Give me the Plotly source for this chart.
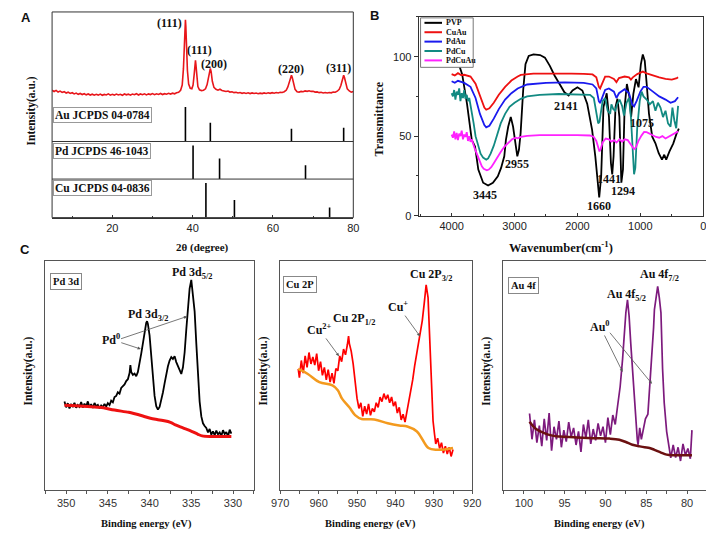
import plotly.graph_objects as go

W, H = 714, 536
def PX(x): return x / W
def PY(y): return 1 - y / H

SERIF = "Liberation Serif, Times New Roman, serif"
SANS = "Liberation Sans, Arial, sans-serif"
NARROW = "Liberation Sans Narrow, Arial Narrow, Liberation Sans, sans-serif"

# ---------------- Panel A : XRD ----------------
xrd_2theta = [5.0,5.5,6.0,6.5,7.0,7.5,8.0,8.5,9.0,9.5,10.0,10.5,11.0,11.5,12.0,12.5,13.0,13.5,14.0,14.5,
              15.0,15.5,16.0,16.5,17.0,17.5,18.0,18.5,19.0,19.5,20.0,20.5,21.0,21.5,22.0,22.5,23.0,23.5,24.0,24.5,
              25.0,25.5,26.0,26.5,27.0,27.5,28.0,28.5,29.0,29.5,30.0,30.5,31.0,31.5,32.0,32.5,33.0,33.5,34.0,34.5,
              35.0,35.5,36.0,36.5,37.0,37.4,37.7,37.9,38.1,38.2,38.3,38.5,38.7,39.0,39.4,39.8,40.1,40.4,40.6,40.7,
              40.8,41.0,41.3,41.7,42.2,42.7,43.2,43.6,44.0,44.3,44.4,44.6,44.9,45.3,45.8,46.3,46.8,47.3,47.8,48.3,
              48.8,49.3,49.8,50.3,50.8,51.3,51.8,52.3,52.8,53.3,53.8,54.3,54.8,55.3,55.8,56.3,56.8,57.3,57.8,58.3,
              58.8,59.3,59.8,60.3,60.8,61.3,61.8,62.3,62.8,63.3,63.7,64.1,64.4,64.6,64.8,65.1,65.5,66.0,66.5,67.0,
              67.5,68.0,68.5,69.0,69.5,70.0,70.5,71.0,71.5,72.0,72.5,73.0,73.5,74.0,74.5,75.0,75.5,76.0,76.5,76.9,
              77.2,77.5,77.6,77.8,78.1,78.5,79.0,79.5,80.0]
xrd_intensity = [17.5,16.2,17.4,15.6,16.6,15.2,16.0,14.6,15.5,14.2,14.9,13.6,14.5,13.2,14.1,13.0,13.9,12.7,13.6,12.5,
                 13.4,12.3,13.3,12.4,13.5,12.2,13.1,12.6,13.7,12.3,13.2,12.4,13.5,12.6,13.3,12.2,13.6,12.7,13.4,12.3,
                 13.5,12.8,13.9,12.5,13.6,12.9,13.8,12.6,13.7,13.0,14.0,12.9,13.8,13.1,14.1,13.0,13.9,13.3,14.3,13.5,
                 14.4,13.8,14.9,15.3,17.5,23.0,40.0,65.0,88.0,91.7,85.0,60.0,38.0,24.0,19.5,19.0,23.0,35.0,46.0,49.0,
                 45.0,32.0,21.5,18.0,17.2,17.6,19.0,23.5,33.0,40.0,40.6,37.0,27.0,20.5,18.5,17.6,18.6,17.3,17.0,16.2,
                 16.7,15.6,15.9,15.0,15.4,14.6,15.1,14.3,14.9,14.2,14.8,14.0,14.7,14.1,14.6,13.9,14.5,14.0,14.7,14.2,
                 14.8,14.3,15.0,14.4,15.1,14.6,15.3,15.2,16.0,17.5,21.0,27.0,32.0,33.3,31.0,24.0,18.5,16.0,15.6,16.3,
                 15.9,16.8,16.4,17.0,16.3,16.5,15.6,15.8,15.0,15.4,14.7,15.2,14.6,15.1,14.8,15.6,15.4,16.5,18.5,22.5,
                 28.0,32.5,33.3,31.0,24.5,19.0,16.8,15.5,16.2]

hkl_labels = ["(111)", "(111)", "(200)", "(220)", "(311)"]

au_pos = [38.2, 44.4, 64.6, 77.6]
au_int = [100, 54, 37, 40]
pd_pos = [40.1, 46.7, 68.1]
pd_int = [89, 55, 37]
cu_pos = [43.3, 50.4, 74.1]
cu_int = [90, 46, 26]
ref_names = ["Au JCPDS 04-0784", "Pd JCPDS 46-1043", "Cu JCPDS 04-0836"]

# ---------------- Panel B : FTIR ----------------
series_names = ["PVP", "CuAu", "PdAu", "PdCu", "PdCuAu"]
series_colors = ["#000000", "#ee1111", "#1a1aee", "#128a82", "#ff22ff"]

pvp_wn = [3912,3833,3756,3680,3628,3576,3499,3421,3344,3266,3214,3163,3137,3101,3060,3023,2997,2977,2956,2930,
          2904,2863,2826,2775,2698,2594,2517,2439,2362,2284,2207,2140,2078,2000,1922,1845,1767,1716,1674,1654,
          1623,1586,1535,1499,1468,1447,1426,1395,1364,1333,1302,1276,1250,1214,1173,1147,1111,1070,1028,992,
          961,930,899,863,811,760,708,656,620,589,537,476,423,388]
pvp_t = [98.3,89.0,70.4,47.6,43.5,29.0,20.7,19.0,20.7,24.8,30.0,37.3,47.6,55.9,62.1,55.9,48.6,41.4,37.3,41.4,
         51.7,78.7,95.2,100.4,101.4,101.0,99.4,94.2,88.0,82.8,77.6,75.6,78.7,80.7,78.7,70.4,53.9,37.3,18.6,11.4,
         24.8,68.3,77.0,62.1,33.1,25.9,37.3,68.3,73.5,62.1,20.7,29.0,68.3,82.8,74.5,62.1,76.6,85.9,80.7,95.2,
         101.4,97.3,82.8,64.2,49.7,45.5,39.3,35.2,38.3,35.2,40.4,45.5,51.7,54.8]

cuau_wn = [4000,3950,3900,3850,3800,3700,3620,3550,3480,3450,3400,3330,3250,3150,3050,2950,2900,2700,2400,2100,
           1900,1760,1700,1660,1640,1610,1560,1500,1420,1380,1340,1250,1180,1150,1120,1050,960,900,800,700,
           600,500,420,400]
cuau_t = [89.0,88.2,89.6,88.4,88.6,87.5,83.0,75.0,68.0,66.6,67.5,71.0,76.0,81.0,85.0,87.5,88.5,89.3,89.5,89.3,
          89.2,88.8,87.0,81.0,80.0,83.0,87.5,87.5,86.0,84.0,86.5,87.5,87.0,85.6,87.0,89.0,90.6,89.5,88.0,87.0,
          86.0,85.6,86.5,87.0]

pdau_wn = [4000,3950,3900,3850,3800,3700,3620,3550,3480,3450,3400,3330,3250,3150,3050,2950,2800,2500,2200,1900,
           1760,1700,1660,1640,1610,1560,1500,1420,1380,1340,1250,1180,1130,1100,1060,1000,950,900,800,700,
           600,520,450,400]
pdau_t = [84.5,83.6,84.8,83.9,83.5,81.0,74.0,64.0,57.0,55.5,56.5,61.0,67.0,73.0,77.0,80.0,82.5,83.5,83.8,83.5,
          82.5,80.0,72.0,70.8,74.0,79.0,80.0,78.0,74.0,77.0,79.5,77.0,70.0,68.7,72.0,78.0,81.0,81.0,78.0,75.0,
          73.0,71.0,72.0,74.5]

pdcu_wn = [4000,3980,3960,3940,3920,3900,3880,3860,3840,3820,3800,3780,3760,3740,3720,3700,3680,3650,3620,3580,
           3540,3500,3470,3450,3420,3380,3330,3280,3220,3150,3080,3000,2950,2900,2800,2600,2300,2000,1800,1740,
           1700,1670,1650,1630,1600,1560,1520,1480,1460,1430,1400,1370,1330,1290,1260,1220,1180,1150,1120,1100,
           1080,1050,1010,980,950,900,850,800,760,720,680,640,600,560,520,490,460,430,400]
pdcu_t = [77.0,75.0,79.0,73.0,78.0,76.0,80.0,72.0,77.0,74.0,79.0,73.5,76.0,72.0,74.0,70.0,66.0,58.0,50.0,44.0,
          39.0,36.5,35.5,35.2,36.0,39.0,44.0,51.0,58.0,64.0,68.5,71.0,72.5,73.5,75.0,76.0,76.5,76.4,76.0,74.0,
          66.0,58.0,59.0,64.0,72.0,74.0,66.0,64.0,70.0,67.0,66.0,70.0,73.0,69.0,63.0,71.0,74.0,62.0,40.0,26.0,
          30.0,55.0,72.0,78.0,75.0,73.0,70.0,72.0,66.0,71.0,68.0,62.0,66.0,58.0,56.0,68.0,60.0,55.0,69.0]

pdcuau_wn = [4000,3980,3960,3940,3920,3900,3880,3860,3840,3820,3800,3780,3760,3740,3720,3700,3680,3660,3640,3610,
             3580,3550,3520,3490,3460,3440,3410,3370,3330,3280,3220,3160,3100,3040,2980,2950,2900,2800,2600,2300,
             2000,1800,1740,1700,1670,1650,1630,1600,1550,1500,1460,1420,1380,1330,1290,1250,1200,1160,1120,1100,
             1070,1030,980,940,900,850,800,750,700,650,600,550,500,450,400]
pdcuau_t = [51.0,49.0,53.0,48.0,52.0,47.5,51.5,50.0,53.5,48.0,51.0,49.5,52.5,47.0,50.0,46.5,48.0,45.0,43.0,40.0,
            37.0,34.0,31.0,29.5,28.7,28.5,29.0,30.5,33.0,36.5,40.0,43.5,46.0,48.0,49.0,48.6,49.5,50.2,50.6,50.8,
            50.6,50.4,49.5,47.0,42.0,40.4,42.0,46.0,48.5,48.0,46.5,47.5,46.0,48.0,46.5,48.0,47.5,45.0,42.5,41.8,
            43.0,47.0,50.5,52.7,52.5,51.5,50.0,49.5,49.0,50.0,48.5,49.5,51.0,52.0,53.0]

ftir_peak_labels = ["3445", "2955", "2141", "1660", "1441", "1294", "1075"]

# ---------------- Panel C : XPS ----------------
pd_be = [350.2,350.0,349.8,349.6,349.4,349.2,349.0,348.8,348.6,348.4,348.2,348.0,347.8,347.6,347.4,347.2,347.0,
         346.8,346.6,346.4,346.2,346.0,345.8,345.6,345.4,345.2,345.0,344.8,344.6,344.4,344.2,344.0,343.8,343.6,
         343.4,343.2,343.0,342.8,342.6,342.4,342.3,342.2,342.0,341.8,341.6,341.4,341.2,341.0,340.8,340.6,340.4,
         340.3,340.2,340.0,339.8,339.6,339.4,339.2,339.0,338.8,338.6,338.4,338.2,338.0,337.8,337.6,337.4,337.2,
         337.0,336.8,336.6,336.4,336.2,336.0,335.8,335.6,335.4,335.2,335.0,334.8,334.6,334.4,334.2,334.0,333.8,
         333.6,333.4,333.2,333.0,332.8,332.6,332.4,332.2,332.0,331.8,331.6,331.4,331.2,331.0,330.8,330.6,330.4,330.2]
pd_counts = [38.5,36.0,37.8,35.5,37.2,36.4,38.0,35.8,37.0,36.2,38.3,35.9,37.6,36.3,38.6,36.0,37.4,
             35.7,37.9,36.5,37.1,35.6,36.8,36.1,37.5,36.3,37.8,37.0,38.9,38.2,40.5,41.0,42.6,42.0,
             44.5,45.2,46.0,47.5,48.3,51.0,54.5,51.5,50.2,50.8,49.6,51.5,55.0,59.5,64.0,69.0,73.0,
             73.7,72.5,67.5,59.0,49.0,41.0,36.5,35.0,36.2,39.0,42.5,46.5,50.5,54.0,56.5,58.0,57.2,
             58.4,55.8,54.0,52.0,50.6,53.5,60.0,70.0,80.0,88.0,91.8,86.0,78.0,64.0,50.0,38.5,32.0,
             29.0,27.8,27.0,25.0,26.5,24.0,25.5,23.8,25.8,24.2,25.0,23.5,26.0,24.3,25.2,23.2,26.2,24.5]
pd_bg_be = [350.2,348.0,346.0,344.2,342.5,341.9,340.8,339.9,339.0,338.4,337.5,336.9,336.0,334.9,334.2,333.7,332.5,331.0,330.2]
pd_bg = [36.9,36.5,36.0,34.8,33.8,33.3,32.2,31.2,30.6,30.2,29.4,28.3,27.0,25.4,24.2,23.5,23.2,23.2,23.2]

cu_be = [965.3,965.0,964.5,964.0,963.5,963.0,962.5,962.0,961.5,961.0,960.5,960.0,959.5,959.0,958.5,958.0,957.5,
         957.0,956.5,956.0,955.5,955.0,954.5,954.0,953.5,953.0,952.5,952.2,952.0,951.5,951.0,950.5,950.0,949.5,
         949.0,948.5,948.0,947.5,947.0,946.5,946.0,945.5,945.0,944.5,944.0,943.5,943.0,942.5,942.0,941.5,941.0,
         940.5,940.0,939.5,939.0,938.5,938.0,937.5,937.0,936.5,936.0,935.5,935.0,934.5,934.0,933.5,933.0,932.5,
         932.0,931.5,931.2,931.0,930.6,930.2,929.8,929.5,929.0,928.5,928.0,927.5,927.0,926.5,926.0,925.5,925.0]
cu_counts = [52.8,49.0,56.5,51.0,58.5,53.5,60.0,55.0,58.0,54.5,59.5,52.0,56.0,50.0,53.5,48.0,52.5,
             47.0,51.0,46.5,53.0,52.0,58.5,56.0,61.5,59.0,63.5,67.2,64.0,60.5,55.0,46.0,40.0,35.5,
             38.0,32.0,36.5,33.0,37.5,32.5,35.5,34.0,38.0,36.0,40.5,38.5,42.0,39.5,41.5,38.0,40.5,
             36.5,38.5,33.5,36.0,30.5,33.0,29.5,34.0,38.5,42.7,48.0,54.0,59.0,63.0,68.5,74.0,81.5,
             89.6,84.0,72.0,60.0,45.0,30.0,24.0,20.0,22.5,18.0,20.5,16.0,19.0,15.5,18.5,14.5,17.5]
cu_bg_be = [965.3,962.8,959.8,956.4,955.0,953.9,952.0,950.5,948.8,945.5,942.0,939.0,936.9,934.4,933.0,931.4,929.3,927.0,925.0]
cu_bg = [52.8,50.6,47.0,45.6,43.5,39.8,36.0,32.6,30.9,30.7,29.0,28.0,27.6,25.4,22.0,18.2,17.4,17.6,18.2]

au_be = [99.3,99.0,98.7,98.4,98.1,97.8,97.5,97.2,96.9,96.6,96.3,96.0,95.7,95.4,95.1,94.8,94.5,94.2,93.9,93.6,
         93.3,93.0,92.7,92.4,92.1,91.8,91.5,91.2,90.9,90.6,90.3,90.0,89.7,89.4,89.1,88.8,88.5,88.2,87.9,87.7,
         87.5,87.3,87.1,86.9,86.7,86.5,86.3,86.1,86.0,85.8,85.6,85.4,85.1,84.8,84.6,84.3,84.1,84.0,83.8,83.6,
         83.4,83.2,83.0,82.8,82.5,82.2,82.0,81.7,81.4,81.1,80.8,80.5,80.2,79.9,79.6,79.4]
au_counts = [33.3,22.0,30.5,20.5,28.0,19.0,31.0,21.5,33.5,17.0,27.5,22.0,30.0,18.5,26.0,21.0,29.5,23.0,27.0,19.5,
             25.5,16.5,28.5,22.5,30.5,20.0,26.5,21.5,29.0,23.5,27.5,20.5,31.5,24.0,32.6,28.5,36.9,45.0,57.1,70.0,
             77.4,83.1,75.9,64.0,52.8,40.0,31.2,22.0,19.6,27.0,22.0,25.4,31.0,33.0,44.0,57.1,71.0,78.8,85.0,88.9,
             84.0,77.4,52.8,38.0,25.4,18.0,13.9,19.5,14.0,18.5,12.5,20.0,15.0,18.0,13.5,26.0]
au_bg_be = [99.3,98.5,97.5,96.5,95.5,93.5,91.5,89.5,88.3,87.5,86.7,85.8,85.2,84.6,84.0,83.2,82.5,81.7,80.5,79.4]
au_bg = [29.7,26.5,24.7,23.6,23.2,22.8,22.5,22.3,21.8,20.8,19.6,18.9,18.5,18.2,17.4,16.2,15.3,15.0,15.0,15.0]

# ================= Figure =================
fig = go.Figure()

# Panel A traces
fig.add_trace(go.Scatter(x=xrd_2theta, y=xrd_intensity, mode="lines", line=dict(color="#e8161b", width=1.6),
                         xaxis="x", yaxis="y", showlegend=False))

def stick_trace(pos, inten, yaxis):
    xs, ys = [], []
    for p, v in zip(pos, inten):
        xs += [p, p, None]
        ys += [0, v, None]
    return go.Scatter(x=xs, y=ys, mode="lines", line=dict(color="black", width=1.6),
                      xaxis="x", yaxis=yaxis, showlegend=False)

fig.add_trace(stick_trace(au_pos, au_int, "y2"))
fig.add_trace(stick_trace(pd_pos, pd_int, "y3"))
fig.add_trace(stick_trace(cu_pos, cu_int, "y4"))

# Panel B traces
ftir = [(pvp_wn, pvp_t), (cuau_wn, cuau_t), (pdau_wn, pdau_t), (pdcu_wn, pdcu_t), (pdcuau_wn, pdcuau_t)]
for name, col, (wn, t) in zip(series_names, series_colors, ftir):
    fig.add_trace(go.Scatter(x=wn, y=t, mode="lines", name=name, line=dict(color=col, width=1.8),
                             xaxis="x2", yaxis="y5", showlegend=False))

# Panel C traces
fig.add_trace(go.Scatter(x=pd_be, y=pd_counts, mode="lines", line=dict(color="black", width=1.8),
                         xaxis="x3", yaxis="y6", showlegend=False))
fig.add_trace(go.Scatter(x=pd_bg_be, y=pd_bg, mode="lines", line=dict(color="#ee1111", width=3, shape="spline"),
                         xaxis="x3", yaxis="y6", showlegend=False))
fig.add_trace(go.Scatter(x=cu_be, y=cu_counts, mode="lines", line=dict(color="#ff0000", width=1.7),
                         xaxis="x4", yaxis="y7", showlegend=False))
fig.add_trace(go.Scatter(x=cu_bg_be, y=cu_bg, mode="lines", line=dict(color="#f39a1e", width=2.5, shape="spline"),
                         xaxis="x4", yaxis="y7", showlegend=False))
fig.add_trace(go.Scatter(x=au_be, y=au_counts, mode="lines", line=dict(color="#7d1a7d", width=1.7),
                         xaxis="x5", yaxis="y8", showlegend=False))
fig.add_trace(go.Scatter(x=au_bg_be, y=au_bg, mode="lines", line=dict(color="#6b1010", width=2.5, shape="spline"),
                         xaxis="x5", yaxis="y8", showlegend=False))

# ---------------- Axes ----------------
LINE = "#333333"
hidden_y = dict(showticklabels=False, ticks="", showgrid=False, zeroline=False, showline=False, range=[0, 100])

layout = dict(
    width=W, height=H, margin=dict(l=0, r=0, t=0, b=0),
    paper_bgcolor="white", plot_bgcolor="rgba(0,0,0,0)",
    font=dict(family=SANS, color="#222"), showlegend=False,
    xaxis=dict(domain=[PX(36), PX(345)], range=[5, 80], anchor="y4", tick0=0, dtick=20,
               ticks="inside", ticklen=3, tickcolor=LINE, showgrid=False, zeroline=False,
               showline=True, linecolor=LINE, linewidth=1,
               minor=dict(dtick=10, ticks="inside", ticklen=2, tickcolor=LINE),
               tickfont=dict(family=SANS, size=11, color="#222")),
    yaxis=dict(domain=[PY(100), PY(4)], anchor="x", **hidden_y),
    yaxis2=dict(domain=[PY(135), PY(100)], anchor="x", **hidden_y),
    yaxis3=dict(domain=[PY(173), PY(135)], anchor="x", **hidden_y),
    yaxis4=dict(domain=[PY(212), PY(173)], anchor="x", **hidden_y),
    xaxis2=dict(domain=[PX(412), PX(704)], range=[4525, 0], anchor="y5", tick0=0, dtick=1000,
                ticks="inside", ticklen=3, tickcolor=LINE, showgrid=False, zeroline=False,
                showline=True, mirror=True, linecolor=LINE, linewidth=1,
                minor=dict(dtick=500, ticks="inside", ticklen=2, tickcolor=LINE),
                tickfont=dict(family=SANS, size=11, color="#222")),
    yaxis5=dict(domain=[PY(210), PY(9)], range=[0, 125], anchor="x2", tickvals=[0, 50, 100],
                ticks="outside", ticklen=4, tickcolor=LINE, showgrid=False, zeroline=False,
                showline=True, mirror=True, linecolor=LINE, linewidth=1,
                minor=dict(dtick=25, ticks="outside", ticklen=2, tickcolor=LINE),
                tickfont=dict(family=SANS, size=11, color="#222")),
)

c_axes = [("xaxis3", "yaxis6", "x3", "y6", 29, 243, [352.5, 327.5], 5, 2.5),
          ("xaxis4", "yaxis7", "x4", "y7", 270, 467, [970, 920], 10, 5),
          ("xaxis5", "yaxis8", "x5", "y8", 499, 710, [102.5, 77.3], 5, 2.5)]
for xa, ya, xid, yid, x0, x1, rng, dt, mdt in c_axes:
    layout[xa] = dict(domain=[PX(x0), PX(x1)], range=rng, anchor=yid, tick0=0, dtick=dt,
                      ticks="outside", ticklen=3, tickcolor="#555", showgrid=False, zeroline=False,
                      showline=True, mirror=True, linecolor="#555", linewidth=1,
                      minor=dict(dtick=mdt, ticks="outside", ticklen=3, tickcolor="#555"),
                      tickfont=dict(family=NARROW, size=11, color="#333"))
    layout[ya] = dict(domain=[PY(487), PY(256)], range=[0, 100], anchor=xid, showticklabels=False,
                      ticks="", showgrid=False, zeroline=False, showline=True, mirror=True,
                      linecolor="#555", linewidth=1)

fig.update_layout(**layout)

# ---------------- Frame shapes (panel A) and legend glyphs (panel B) ----------------
shapes = [
    dict(type="rect", xref="paper", yref="paper", x0=PX(36), x1=PX(345), y0=PY(212), y1=PY(4),
         line=dict(color=LINE, width=1)),
    dict(type="line", xref="paper", yref="paper", x0=PX(36), x1=PX(345), y0=PY(135), y1=PY(135),
         line=dict(color=LINE, width=1)),
    dict(type="line", xref="paper", yref="paper", x0=PX(36), x1=PX(345), y0=PY(173), y1=PY(173),
         line=dict(color=LINE, width=1)),
    dict(type="rect", xref="paper", yref="paper", x0=PX(414), x1=PX(468), y0=PY(60), y1=PY(10),
         line=dict(color="#777", width=1), fillcolor="white", layer="above"),
]
legend_rows = [15, 24.5, 34, 43.5, 53]
for col, ry in zip(series_colors, legend_rows):
    shapes.append(dict(type="line", xref="paper", yref="paper", x0=PX(418), x1=PX(436), y0=PY(ry), y1=PY(ry),
                       line=dict(color=col, width=2), layer="above"))
fig.update_layout(shapes=shapes)

ann = []
def txt(text, x, y, xref="paper", yref="paper", size=12, family=SERIF, bold=True, angle=0, **kw):
    t = f"<b>{text}</b>" if bold else text
    d = dict(text=t, x=x, y=y, xref=xref, yref=yref, showarrow=False, textangle=angle,
             font=dict(family=family, size=size, color="#111"), xanchor="center", yanchor="middle")
    d.update(kw)
    ann.append(d)

# legend labels
for name, ry in zip(series_names, legend_rows):
    txt(name, PX(438), PY(ry), size=8, xanchor="left")

# Panel letters
txt("A", PX(9), PY(10), family=SANS, size=13)
txt("B", PX(367), PY(8), family=SANS, size=13)
txt("C", PX(8), PY(244), family=SANS, size=13)

# Panel A text
hkl_x = [34.3, 41.8, 45.2, 64.6, 76.3]
hkl_y = [88.5, 59.4, 44.8, 39.6, 40.6]
for lab, hx, hy in zip(hkl_labels, hkl_x, hkl_y):
    txt(lab, hx, hy, xref="x", yref="y", size=12)
for name, yc in zip(ref_names, [108.5, 144.5, 182.5]):
    txt(name, PX(37), PY(yc), size=11.5, xanchor="left", bordercolor="#999", borderwidth=1,
        borderpad=1, bgcolor="white")
txt("2θ (degree)", PX(190), PY(242), size=11)
txt("Intensity(a.u.)", PX(15), PY(104), size=11.5, angle=-90)

# Panel B text
lab_wn = [3473, 2961, 2186, 1659, 1504, 1271, 977]
lab_t = [13.0, 32.3, 69.0, 6.2, 23.0, 15.5, 58.4]
for lab, lx, ly in zip(ftir_peak_labels, lab_wn, lab_t):
    txt(lab, lx, ly, xref="x2", yref="y5", size=12)
txt("Wavenumber(cm<sup>-1</sup>)", PX(558), PY(242), size=12.5)
txt("Transmittance", PX(371), PY(112), size=12, angle=-90)

# Panel C text
for cx in [133, 363, 598]:
    txt("Binding energy (eV)", PX(cx), PY(522), size=10.5)
for cx in [12, 253, 482]:
    txt("Intensity(a.u.)", PX(cx), PY(367), size=11.5, angle=-90)

# C1
txt("Pd 3d", 350.0, 91.3, xref="x3", yref="y6", size=10.5, bordercolor="#888", borderwidth=1, borderpad=2, bgcolor="white")
txt("Pd 3d<sub>5/2</sub>", 334.9, 94.8, xref="x3", yref="y6", size=12)
txt("Pd 3d<sub>3/2</sub>", 340.2, 76.6, xref="x3", yref="y6", size=12)
# C2
txt("Cu 2P", 964.9, 89.6, xref="x4", yref="y7", size=10.5, bordercolor="#888", borderwidth=1, borderpad=2, bgcolor="white")
txt("Cu 2P<sub>3/2</sub>", 930.8, 93.9, xref="x4", yref="y7", size=12)
txt("Cu 2P<sub>1/2</sub>", 950.9, 74.5, xref="x4", yref="y7", size=12)
# C3
txt("Au 4f", 100.0, 89.2, xref="x5", yref="y8", size=10.5, bordercolor="#888", borderwidth=1, borderpad=2, bgcolor="white")
txt("Au 4f<sub>7/2</sub>", 83.35, 93.9, xref="x5", yref="y8", size=12)
txt("Au 4f<sub>5/2</sub>", 87.4, 85.3, xref="x5", yref="y8", size=12)

def arrow(xh, yh, xt, yt, xr, yr, text="", xanchor="auto"):
    ann.append(dict(text=(f"<b>{text}</b>" if text else ""), x=xh, y=yh, ax=xt, ay=yt,
                    xref=xr, yref=yr, axref=xr, ayref=yr, xanchor=xanchor,
                    font=dict(family=SERIF, size=12, color="#111"),
                    showarrow=True, arrowhead=2, arrowsize=0.8, arrowwidth=0.8, arrowcolor="#555"))

arrow(341.05, 61.5, 344.65, 65.8, "x3", "y6", "Pd<sup>0</sup>")
arrow(335.5, 75.8, 343.6, 65.8, "x3", "y6")
arrow(933.6, 67.1, 939.2, 80.1, "x4", "y7", "Cu<sup>+</sup>")
arrow(954.7, 58.4, 959.8, 70.1, "x4", "y7", "Cu<sup>2+</sup>")
arrow(87.9, 51.5, 90.66, 71.4, "x5", "y8", "Au<sup>0</sup>")
arrow(84.3, 46.3, 89.6, 69.3, "x5", "y8")

fig.update_layout(annotations=ann)
fig.write_html("out.html")
